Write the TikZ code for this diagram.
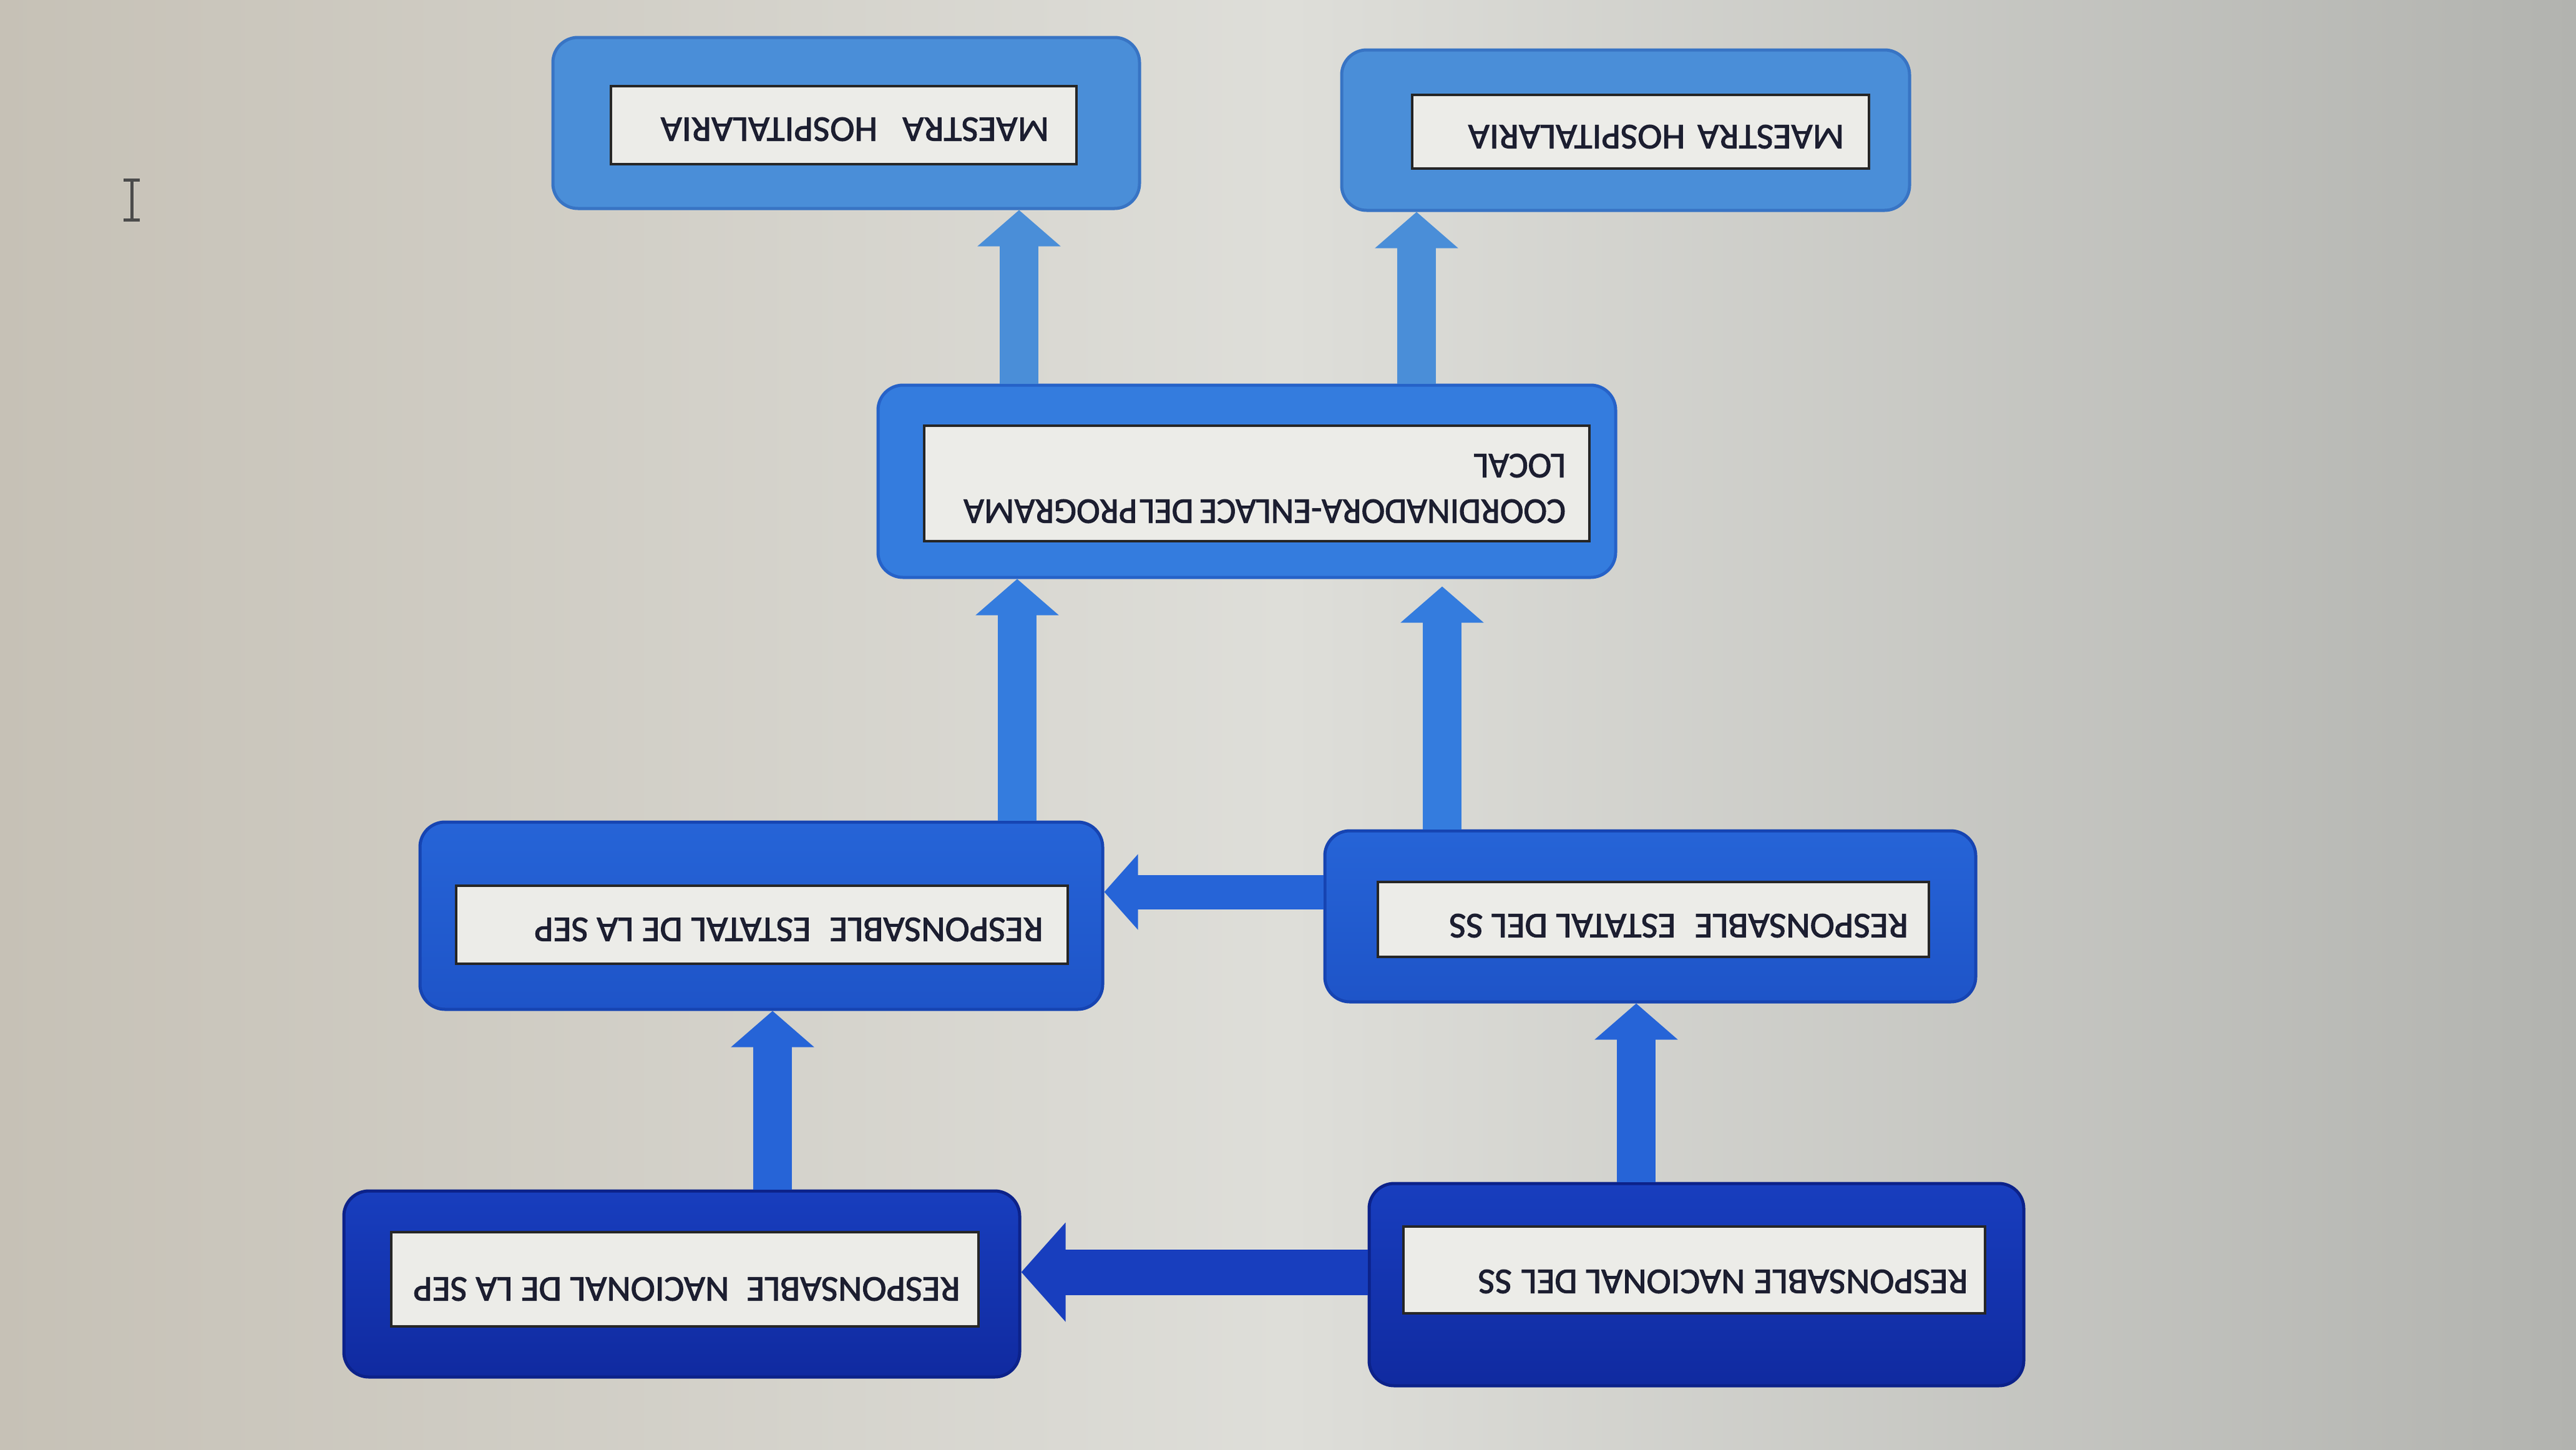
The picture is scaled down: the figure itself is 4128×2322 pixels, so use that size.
\documentclass[tikz,border=0pt]{standalone}
\usepackage{fontspec}
\newfontfamily\cf[FakeStretch=1.02,FakeBold=1.8]{Carlito}
\usetikzlibrary{arrows.meta,calc}
\definecolor{bgA}{RGB}{198,193,182}
\definecolor{bgB}{RGB}{222,222,217}
\definecolor{bgC}{RGB}{178,179,175}
\definecolor{lite}{RGB}{74,142,216}
\definecolor{liteD}{RGB}{56,116,196}
\definecolor{midb}{RGB}{52,124,222}
\definecolor{midD}{RGB}{38,98,200}
\definecolor{est}{RGB}{38,100,215}
\definecolor{estB}{RGB}{30,84,200}
\definecolor{estD}{RGB}{22,68,178}
\definecolor{nac}{RGB}{24,62,190}
\definecolor{nacB}{RGB}{16,42,160}
\definecolor{nacD}{RGB}{12,34,138}
\definecolor{paper}{RGB}{236,236,232}
\definecolor{ink}{RGB}{28,30,48}
\begin{document}
\begin{tikzpicture}[x=1pt,y=-1pt,
  outer/.style={rounded corners=40pt, line width=5pt},
  innerbox/.style={draw=black!85, line width=4pt, fill=paper},
  lbl/.style={rotate=180, text=ink, inner sep=0pt, align=left,
    font=\cf\fontsize{58}{73}\selectfont},
  varr/.style={line width=62pt, -{Triangle[width=130pt,length=58pt]}},
  harr/.style={line width=55pt, -{Triangle[width=118pt,length=54pt]}},
  barr/.style={line width=73pt, -{Triangle[width=155pt,length=71pt]}}]
% background
\shade[left color=bgA, right color=bgC, middle color=bgB] (0,0) rectangle (4128,2322);
\useasboundingbox (0,0) rectangle (4128,2322);
% cursor
\draw[line width=5pt, black!70] (211,288) -- (211,352) (198,288) -- (224,288) (198,352) -- (224,352);
% outer boxes
\node[outer, fill=lite, draw=liteD, minimum width=940pt, minimum height=274pt] (m1) at (1356,197) {};
\node[outer, fill=lite, draw=liteD, minimum width=910pt, minimum height=257pt] (m2) at (2605,208.5) {};
\node[outer, fill=midb, draw=midD, minimum width=1182pt, minimum height=308pt] (co) at (1998,771) {};
\node[outer, top color=est, bottom color=estB, draw=estD, minimum width=1094pt, minimum height=300pt] (es) at (1220,1467) {};
\node[outer, top color=est, bottom color=estB, draw=estD, minimum width=1043pt, minimum height=274pt] (ess) at (2644.5,1468) {};
\node[outer, top color=nac, bottom color=nacB, draw=nacD, minimum width=1083pt, minimum height=298pt] (ns) at (1092.5,2057) {};
\node[outer, top color=nac, bottom color=nacB, draw=nacD, minimum width=1049pt, minimum height=324pt] (nss) at (2718.5,2058) {};
% inner boxes
\node[innerbox, minimum width=746pt, minimum height=125pt] (m1i) at (1352,200.5) {};
\node[innerbox, minimum width=732pt, minimum height=118pt] (m2i) at (2629,211) {};
\node[innerbox, minimum width=1066pt, minimum height=185pt] (coi) at (2014,774.5) {};
\node[innerbox, minimum width=980pt, minimum height=125pt] (esi) at (1221,1481.5) {};
\node[innerbox, minimum width=883pt, minimum height=120pt] (essi) at (2649.5,1473) {};
\node[innerbox, minimum width=941pt, minimum height=151pt] (nsi) at (1097.5,2049.5) {};
\node[innerbox, minimum width=932pt, minimum height=139pt] (nssi) at (2715,2034.5) {};
% labels
\node[lbl] (t1) at (1370,207) {MAESTRA\hspace{40pt}HOSPITALARIA};
\node[lbl] (t2) at (2654,219) {MAESTRA\hspace{20pt}HOSPITALARIA};
\node[lbl, xscale=0.96] (t3) at (2026.5,782.5) {COORDINADORA-ENLACE\hspace{10pt}DEL\hspace{4pt}PROGRAMA\\LOCAL};
\node[lbl] (t4) at (1264,1489) {RESPONSABLE\hspace{30pt}ESTATAL DE LA SEP};
\node[lbl] (t5) at (2690,1483) {RESPONSABLE\hspace{30pt}ESTATAL DEL SS};
\node[lbl] (t6) at (1100.5,2065) {RESPONSABLE\hspace{28pt}NACIONAL DE LA SEP};
\node[lbl] (t7) at (2761,2053) {RESPONSABLE\hspace{15pt}NACIONAL DEL\hspace{15pt}SS};
% arrow columns
\coordinate (xa1) at (1633,0);
\coordinate (xa2) at (2270,0);
\coordinate (xa3) at (1630,0);
\coordinate (xa4) at (2311,0);
\coordinate (xa6) at (1238,0);
\coordinate (xa7) at (2622,0);
\coordinate (ya5) at (0,1429);
\coordinate (ya8) at (0,2038);
% arrows
\draw[varr, draw=lite] (co.north -| xa1) -- (m1.south -| xa1);
\draw[varr, draw=lite] (co.north -| xa2) -- (m2.south -| xa2);
\draw[varr, draw=midb] (es.north -| xa3) -- (co.south -| xa3);
\draw[varr, draw=midb] (ess.north -| xa4) -- ([yshift=-12pt]co.south -| xa4);
\draw[harr, draw=est] (ess.west |- ya5) -- (es.east |- ya5);
\draw[varr, draw=est] (ns.north -| xa6) -- (es.south -| xa6);
\draw[varr, draw=est] (nss.north -| xa7) -- (ess.south -| xa7);
\draw[barr, draw=nac] (nss.west |- ya8) -- (ns.east |- ya8);
\end{tikzpicture}
\end{document}
